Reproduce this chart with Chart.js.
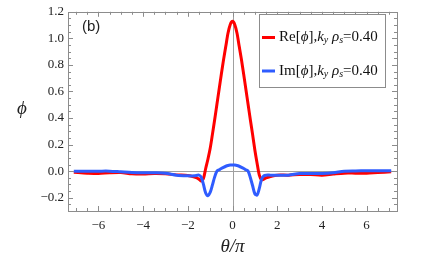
<!DOCTYPE html>
<html>
<head>
<meta charset="utf-8">
<script src="https://cdn.jsdelivr.net/npm/chart.js"></script>
<style>
  html, body { margin: 0; padding: 0; background: #fff; }
  #wrap { width: 427px; height: 267px; }
</style>
</head>
<body>
<div id="wrap"><canvas id="mycanvas" width="427" height="267"></canvas></div>
<script>
// theta/pi sample positions
var theta = [-7.1, -6.5, -6, -5.5, -5, -4.5, -4, -3.5, -3, -2.5, -2, -1.7, -1.5, -1.4, -1.3, -1.2, -1.1, -1.0,
  -0.9, -0.8, -0.7, -0.6, -0.5, -0.4, -0.3, -0.2, -0.1, 0,
  0.1, 0.2, 0.3, 0.4, 0.5, 0.6, 0.7, 0.8, 0.9, 1.0, 1.1, 1.2, 1.3, 1.4, 1.5, 1.7, 2, 2.5, 3, 3.5, 4, 4.5,
  5, 5.5, 6, 6.5, 7.1];

// Re[phi]
var rePhi = [-0.008, -0.015, -0.018, -0.012, -0.01, -0.02, -0.022, -0.018, -0.02, -0.028, -0.032, -0.045, -0.06, -0.075, -0.055, 0.02, 0.09, 0.17,
  0.275, 0.385, 0.50, 0.615, 0.73, 0.84, 0.94, 1.04, 1.105, 1.128,
  1.105, 1.04, 0.94, 0.84, 0.73, 0.615, 0.50, 0.385, 0.275, 0.16, 0.06, -0.03, -0.065, -0.06, -0.05, -0.04, -0.03, -0.03, -0.025, -0.025, -0.03, -0.022,
  -0.015, -0.015, -0.015, -0.01, -0.005];

// Im[phi]
var imPhi = [0.0, 0.0, 0.0, 0.0, -0.005, -0.01, -0.012, -0.012, -0.015, -0.03, -0.035, -0.035, -0.03, -0.045, -0.1, -0.165, -0.185, -0.16,
  -0.105, -0.045, 0.0, 0.01, 0.02, 0.029, 0.037, 0.043, 0.046, 0.047,
  0.046, 0.043, 0.037, 0.029, 0.02, 0.01, 0.0, -0.05, -0.11, -0.17, -0.18, -0.13, -0.06, -0.035, -0.03, -0.03, -0.03, -0.03, -0.018, -0.017, -0.017, -0.012,
  0.0, 0.002, 0.003, 0.003, 0.003];

var xTicks = [-6, -4, -2, 0, 2, 4, 6];
var yTicks = [-0.2, 0.0, 0.2, 0.4, 0.6, 0.8, 1.0, 1.2];

function pts(xs, ys) {
  return xs.map(function (x, i) { return { x: x, y: ys[i] }; });
}

var serif = '"Liberation Serif", "Times New Roman", serif';
var frameColor = '#8c8c8c';

// frame, inward ticks, zero lines, labels and legend
var decor = {
  id: 'decor',
  beforeDatasetsDraw: function (chart) {
    var ctx = chart.ctx, a = chart.chartArea;
    var xs = chart.scales.x, ys = chart.scales.y;
    ctx.save();
    ctx.strokeStyle = '#a0a0a0';
    ctx.lineWidth = 1;
    var x0 = Math.round(xs.getPixelForValue(0)) + 0.5;
    var y0 = Math.round(ys.getPixelForValue(0)) + 0.5;
    ctx.beginPath();
    ctx.moveTo(x0, a.top); ctx.lineTo(x0, a.bottom);
    ctx.moveTo(a.left, y0); ctx.lineTo(a.right, y0);
    ctx.stroke();
    ctx.restore();
  },
  afterDatasetsDraw: function (chart) {
    var ctx = chart.ctx, a = chart.chartArea;
    var xs = chart.scales.x, ys = chart.scales.y;
    ctx.save();
    ctx.strokeStyle = frameColor;
    ctx.lineWidth = 1;
    ctx.strokeRect(Math.round(a.left) + 0.5, Math.round(a.top) + 0.5,
      Math.round(a.right - a.left), Math.round(a.bottom - a.top));

    ctx.beginPath();
    // x ticks every 0.5, major every 2
    for (var v = -7; v <= 7.001; v += 0.5) {
      var px = Math.round(xs.getPixelForValue(v)) + 0.5;
      var len = (Math.abs(v % 2) < 1e-6) ? 5 : 3;
      ctx.moveTo(px, a.bottom); ctx.lineTo(px, a.bottom - len);
      ctx.moveTo(px, a.top); ctx.lineTo(px, a.top + len);
    }
    // y ticks every 0.05, major every 0.2
    for (var k = -6; k <= 24; k++) {
      var val = k * 0.05;
      var py = Math.round(ys.getPixelForValue(val)) + 0.5;
      var l2 = (k % 4 === 0) ? 5 : 3;
      ctx.moveTo(a.left, py); ctx.lineTo(a.left + l2, py);
      ctx.moveTo(a.right, py); ctx.lineTo(a.right - l2, py);
    }
    ctx.stroke();

    // axis titles
    ctx.fillStyle = '#222';
    ctx.textAlign = 'center';
    ctx.textBaseline = 'middle';
    ctx.font = 'italic 19px ' + serif;
    ctx.fillText('θ/π', (a.left + a.right) / 2, 247);
    ctx.fillText('ϕ', 22, 109);

    // panel tag
    ctx.font = '15px "Liberation Sans", Arial, sans-serif';
    ctx.textAlign = 'left';
    ctx.fillText('(b)', 82, 27);

    // legend box
    var bx = 259.5, by = 14.5, bw = 126, bh = 73;
    ctx.fillStyle = '#fff';
    ctx.fillRect(bx, by, bw, bh);
    ctx.strokeStyle = frameColor;
    ctx.strokeRect(bx, by, bw, bh);
    var rows = [
      { pre: 'Re[', color: chart.data.datasets[0].borderColor, y: 37.5 },
      { pre: 'Im[', color: chart.data.datasets[1].borderColor, y: 71 }
    ];
    rows.forEach(function (r) {
      ctx.strokeStyle = r.color;
      ctx.lineWidth = 3;
      ctx.beginPath();
      ctx.moveTo(262, r.y); ctx.lineTo(275, r.y);
      ctx.stroke();
      var parts = [
        { t: r.pre, f: '15px ' + serif, dy: 0 },
        { t: 'ϕ', f: 'italic 15px ' + serif, dy: 0 },
        { t: '],', f: '15px ' + serif, dy: 0 },
        { t: 'k', f: 'italic 15px ' + serif, dy: 0 },
        { t: 'y', f: 'italic 10px ' + serif, dy: 3 },
        { t: ' ρ', f: 'italic 15px ' + serif, dy: 0 },
        { t: 's', f: 'italic 10px ' + serif, dy: 3 },
        { t: '=0.40', f: '15px ' + serif, dy: 0 }
      ];
      var tx = 279;
      ctx.fillStyle = '#111';
      ctx.textBaseline = 'middle';
      parts.forEach(function (p) {
        ctx.font = p.f;
        ctx.fillText(p.t, tx, r.y + p.dy);
        tx += ctx.measureText(p.t).width;
      });
    });
    ctx.restore();
  }
};

var ctx_live = document.getElementById('mycanvas');
var myChart = new Chart(ctx_live, {
  type: 'line',
  data: {
    datasets: [{
      label: 'Re',
      data: pts(theta, rePhi),
      borderColor: '#ff0000',
      borderWidth: 3,
      pointRadius: 0,
      tension: 0.3,
      fill: false,
      order: 1
    }, {
      label: 'Im',
      data: pts(theta, imPhi),
      borderColor: '#2f5cff',
      borderWidth: 3,
      pointRadius: 0,
      tension: 0.3,
      fill: false,
      order: 0
    }]
  },
  options: {
    responsive: false,
    animation: false,
    layout: { padding: { left: 0, right: 30, top: 8, bottom: 0 } },
    plugins: {
      legend: { display: false },
      tooltip: { enabled: false }
    },
    scales: {
      x: {
        type: 'linear',
        min: -7.36,
        max: 7.36,
        grid: { display: false, drawTicks: false },
        border: { display: false },
        afterBuildTicks: function (scale) {
          scale.ticks = xTicks.map(function (v) { return { value: v }; });
        },
        afterFit: function (scale) { scale.height = 56; },
        ticks: {
          padding: 7,
          maxRotation: 0,
          color: '#222',
          font: { family: serif, size: 13 },
          callback: function (v) { return v < 0 ? '\u2212' + Math.abs(v) : String(v); }
        }
      },
      y: {
        type: 'linear',
        min: -0.3,
        max: 1.2,
        grid: { display: false, drawTicks: false },
        border: { display: false },
        afterBuildTicks: function (scale) {
          scale.ticks = yTicks.map(function (v) { return { value: v }; });
        },
        afterFit: function (scale) { scale.width = 68; },
        ticks: {
          padding: 4,
          color: '#222',
          font: { family: serif, size: 13 },
          callback: function (v) {
            var s = Math.abs(v).toFixed(1);
            return v < -1e-9 ? '\u2212' + s : s;
          }
        }
      }
    }
  },
  plugins: [decor]
});
</script>
</body>
</html>
